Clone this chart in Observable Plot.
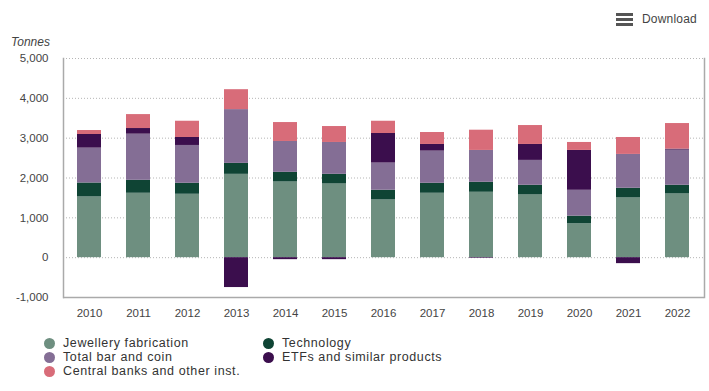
<!DOCTYPE html>
<html><head><meta charset="utf-8">
<script src="https://cdn.jsdelivr.net/npm/d3@7"></script>
<script src="https://cdn.jsdelivr.net/npm/@observablehq/plot@0.6"></script>
<style>
body{margin:0;background:#fff;font-family:"Liberation Sans",Arial,sans-serif;}
#wrap{position:relative;width:709px;height:391px;overflow:hidden;background:#fff}
#chart{position:absolute;left:0;top:0}
#dl{position:absolute;left:616px;top:11px;height:16px;display:flex;align-items:center;font-size:12px;color:#444;letter-spacing:0.2px}
#dl .ham{display:inline-block;width:17px;height:13px;margin-right:9px;position:relative}
#dl .ham i{position:absolute;left:0;width:17px;height:3px;background:#555}
#dl .ham i:nth-child(1){top:0}#dl .ham i:nth-child(2){top:5px}#dl .ham i:nth-child(3){top:10px}
#unit{position:absolute;left:11px;top:35px;font-size:12px;font-style:italic;color:#444}
#legend{position:absolute;left:44px;top:336px;display:grid;grid-template-columns:219px auto;grid-auto-rows:14px}
#legend .it{display:flex;align-items:center;font-size:12.5px;letter-spacing:0.6px;color:#333;white-space:nowrap}
#legend .sw{width:11px;height:11px;border-radius:50%;margin-right:8px;flex:none}
</style></head><body>
<div id="wrap">
  <div id="dl"><span class="ham"><i></i><i></i><i></i></span>Download</div>
  <div id="unit">Tonnes</div>
  <div id="chart"></div>
  <div id="legend"></div>
</div>
<script>
const years = ["2010","2011","2012","2013","2014","2015","2016","2017","2018","2019","2020","2021","2022"];
const seriesNames = ["Jewellery fabrication","Technology","Total bar and coin","ETFs and similar products","Central banks and other inst."];
const colors = ["#6e8f80","#0f4434","#846e95","#3b0e4d","#d86c79"];
const jewellery = [1525,1617,1592,2092,1900,1850,1450,1617,1642,1575,850,1500,1600];
const technology = [350,325,275,275,242,242,242,250,250,242,192,242,217];
const barCoin = [875,1158,950,1350,775,800,683,808,800,625,650,850,883];
const etfs = [342,142,200,-750,-50,-50,742,167,-15,400,1000,-150,25];
const centralBanks = [100,350,408,500,475,400,308,300,508,475,200,425,642];
const yTicks = [-1000,0,1000,2000,3000,4000,5000];

const seriesValues = [jewellery, technology, barCoin, etfs, centralBanks];
const rows = [];
years.forEach((yr, i) => {
  seriesNames.forEach((s, k) => rows.push({year: yr, series: s, value: seriesValues[k][i]}));
});

const fmt = d => d.toLocaleString("en-US");

const chart = Plot.plot({
  width: 709,
  height: 330,
  marginTop: 58,
  marginLeft: 63,
  marginRight: 5,
  marginBottom: 33,
  style: {fontFamily: "Liberation Sans, Arial, sans-serif", fontSize: "11.5px", color: "#444", background: "transparent"},
  x: {type: "band", domain: years, paddingInner: 0.51, paddingOuter: 0.255, tickSize: 0, tickPadding: 11, label: null},
  y: {domain: [-1000, 5000], ticks: yTicks, tickFormat: fmt, tickSize: 0, tickPadding: 15, label: null},
  color: {domain: seriesNames, range: colors},
  marks: [
    Plot.ruleY(yTicks.filter(d => d > -1000), {stroke: "#b5b5b5", strokeDasharray: "1,2"}),
    Plot.barY(rows, Plot.stackY({x: "year", y: "value", fill: "series", order: null})),
    Plot.ruleY([-1000], {stroke: "#aaa", strokeWidth: 1.5}),
    Plot.frame({anchor: "left", stroke: "#aaa", strokeWidth: 1.5}),
    Plot.frame({anchor: "right", stroke: "#aaa", strokeWidth: 1.5})
  ]
});
document.getElementById("chart").appendChild(chart);

const leg = document.getElementById("legend");
const order = [0,1,2,3,4];
order.forEach(k => {
  const it = document.createElement("div");
  it.className = "it";
  const sw = document.createElement("span");
  sw.className = "sw";
  sw.style.background = colors[k];
  it.appendChild(sw);
  it.appendChild(document.createTextNode(seriesNames[k]));
  leg.appendChild(it);
});
</script>
</body></html>
